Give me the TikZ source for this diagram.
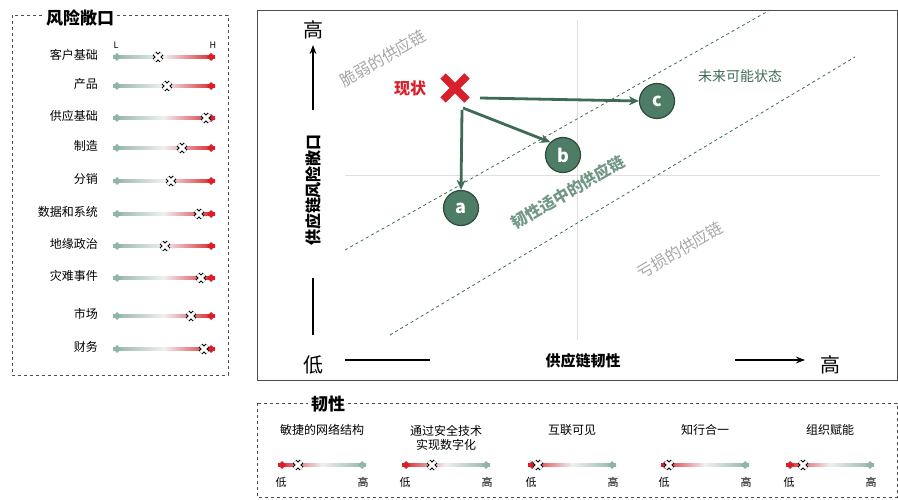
\documentclass[tikz,border=0pt]{standalone}
\usepackage{fontspec}
\setmainfont{Noto Sans CJK SC}
\usetikzlibrary{arrows.meta,calc}
\definecolor{gr}{HTML}{8FB5A5}
\definecolor{rd}{HTML}{D9202A}
\definecolor{dg}{HTML}{3D6B55}
\definecolor{cf}{HTML}{4E7D66}
\tikzset{
 lbl/.style={font=\fontsize{12}{14}\selectfont, inner sep=0pt},
 circ/.style={circle, draw=dg!70!black, line width=1.2pt, fill=cf, minimum size=35pt, text=white, font=\fontsize{18}{18}\selectfont\bfseries},
 arr/.style={-{Stealth[length=10pt,width=9pt]}, line width=2.8pt, dg},
}
\newcommand{\xmark}[1]{%
 \draw[black,line width=5pt] ($#1+(-3.5,-3.5)$)--($#1+(3.5,3.5)$) ($#1+(-3.5,3.5)$)--($#1+(3.5,-3.5)$);
 \draw[white,line width=3pt] ($#1+(-3.5,-3.5)$)--($#1+(3.5,3.5)$) ($#1+(-3.5,3.5)$)--($#1+(3.5,-3.5)$);}
\newcommand{\riskbar}[2]{%
 \shade[left color=gr, right color=rd, middle color=gray!12] (113,#1-1.6) rectangle (215,#1+1.6);
 \fill[gr] (113,#1) -- (117,#1-4) -- (121,#1) -- (117,#1+4) -- cycle;
 \fill[rd] (207,#1) -- (211,#1-4) -- (215,#1) -- (211,#1+4) -- cycle;
 \xmark{(#2,#1)}}
\newcommand{\resbar}[3]{%
 \shade[left color=rd, right color=gr, middle color=gray!12] (#1-44,465-1.6) rectangle (#1+44,465+1.6);
 \fill[rd] (#1-44,465) -- (#1-40,461) -- (#1-36,465) -- (#1-40,469) -- cycle;
 \fill[gr] (#1+36,465) -- (#1+40,461) -- (#1+44,465) -- (#1+40,469) -- cycle;
 \xmark{(#2,465)}
 \node[lbl,font=\fontsize{11}{12}\selectfont] (lo#3) at (#1-41,482) {低};
 \node[lbl,font=\fontsize{11}{12}\selectfont] (hi#3) at (#1+41,482) {高};}
\begin{document}
\begin{tikzpicture}[x=1pt,y=-1pt]
\useasboundingbox (0,0) rectangle (898,500);
% left box
\draw[dashed,gray!60!black] (12,15) rectangle (228,375);
\node[fill=white,font=\fontsize{17}{18}\selectfont\bfseries] (rt) at (80,18) {风险敞口};
\node[lbl,font=\fontsize{9}{10}\selectfont] (L) at (116,45) {L};
\node[lbl,font=\fontsize{9}{10}\selectfont] (H) at (213,45) {H};
\foreach \y/\xx/\t in {57/158/客户基础,86/167/产品,118/206/供应基础,148/182/制造,181/171/分销,214/199/数据和系统,246/165/地缘政治,278/201/灾难事件,316/191/市场,349/204/财务}{
 \node[lbl,anchor=east] at (98,\y-2) {\t};
 \riskbar{\y}{\xx}}
% main chart
\draw[gray!60!black] (257,10) rectangle (897,380);
\draw[gray!25] (577,20) -- (577,340);
\draw[gray!25] (345,175) -- (880,175);
\draw[dashed,dg,thick] (345,250) -- (770,10);
\draw[dashed,dg,thick] (390,335) -- (855,57);
\node[font=\fontsize{20}{20}\selectfont] (yhi) at (313,30) {高};
\node[font=\fontsize{20}{20}\selectfont] (ylo) at (313,365) {低};
\node[font=\fontsize{16}{16}\selectfont\bfseries,rotate=90] (ylab) at (313,190) {供应链风险敞口};
\draw[line width=1.8pt] (313,335) -- (313,278);
\draw[line width=1.8pt,-{Stealth[length=9pt]}] (313,110) -- (313,45);
\node[font=\fontsize{15}{15}\selectfont\bfseries] (xlab) at (583,361) {供应链韧性};
\draw[line width=1.8pt] (345,360) -- (430,360);
\draw[line width=1.8pt,-{Stealth[length=9pt]}] (735,360) -- (805,360);
\node[font=\fontsize{20}{20}\selectfont] (xhi) at (830,365) {高};
\node[gray!70,rotate=30,font=\fontsize{16}{16}\selectfont] (t1) at (383,58) {脆弱的供应链};
\node[cf!80,rotate=30,font=\fontsize{16}{16}\selectfont\bfseries] (t2) at (568,192) {韧性适中的供应链};
\node[gray!70,rotate=30,font=\fontsize{16}{16}\selectfont] (t3) at (680,250) {亏损的供应链};
\node[rd,font=\fontsize{16}{16}\selectfont\bfseries] (now) at (410,88) {现状};
\node[inner sep=0pt,minimum size=26pt] (X) at (455,88) {};
\draw[rd,line width=7.5pt] (443,76)--(467,100) (443,100)--(467,76);
\node[circ] (a) at (461,208) {a};
\node[circ] (b) at (563,155) {b};
\node[circ] (c) at (657,101) {c};
\node[dg,font=\fontsize{14}{15}\selectfont] (fut) at (740,76) {未来可能状态};
\draw[arr] (480,98) -- (c.west);
\draw[arr] (463,108) -- (b.north west);
\draw[arr] (462,110) -- (a.north);
% bottom box
\draw[dashed,gray!60!black] (257,403) rectangle (897,497);
\node[fill=white,font=\fontsize{17}{18}\selectfont\bfseries] (bt) at (328,404) {韧性};
\node[lbl] at (322,430) {敏捷的网络结构};
\node[lbl,align=center] at (446,438) {通过安全技术\\实现数字化};
\node[lbl] at (572,430) {互联可见};
\node[lbl] at (705,430) {知行合一};
\node[lbl] at (830,430) {组织赋能};
\resbar{322}{298}{1}
\resbar{446}{432}{2}
\resbar{572}{538}{3}
\resbar{705}{669}{4}
\resbar{830}{803}{5}
\end{tikzpicture}
\end{document}
